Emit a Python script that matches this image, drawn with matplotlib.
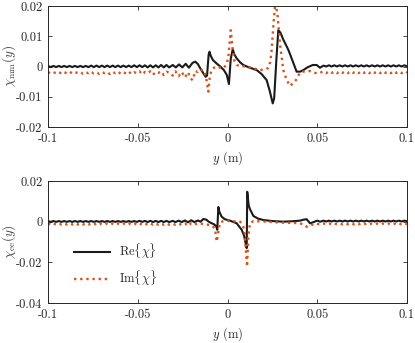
import matplotlib
matplotlib.use('Agg')
import matplotlib.pyplot as plt

plt.rcParams['font.family'] = 'cmr10'
plt.rcParams['mathtext.fontset'] = 'cm'
plt.rcParams['axes.unicode_minus'] = False
plt.rcParams['axes.formatter.use_mathtext'] = True

# позиции y (м) для "хвостов" с мелкими осцилляциями
pos_left = [-0.1, -0.0985, -0.097, -0.0955, -0.094, -0.0925, -0.091, -0.0895, -0.088, -0.0865,
            -0.085, -0.0835, -0.082, -0.0805, -0.079, -0.0775, -0.076, -0.0745, -0.073, -0.0715,
            -0.07, -0.0685, -0.067, -0.0655, -0.064, -0.0625, -0.061, -0.0595, -0.058, -0.0565,
            -0.055, -0.0535, -0.052, -0.0505, -0.049, -0.0475, -0.046, -0.0445, -0.043, -0.0415,
            -0.04, -0.0385, -0.037, -0.0355, -0.034, -0.0325]
pos_right = [0.0535, 0.055, 0.0565, 0.058, 0.0595, 0.061, 0.0625, 0.064, 0.0655, 0.067,
             0.0685, 0.07, 0.0715, 0.073, 0.0745, 0.076, 0.0775, 0.079, 0.0805, 0.082,
             0.0835, 0.085, 0.0865, 0.088, 0.0895, 0.091, 0.0925, 0.094, 0.0955, 0.097,
             0.0985, 0.1]

# верхний график: chi_mm
mm_re_left = [0.0002, -0.0002, 0.0002, -0.0002, 0.0002, -0.0002, 0.0002, -0.0002, 0.0002, -0.0002,
              0.0002, -0.0002, 0.0002, -0.0002, 0.0002, -0.0002, 0.0003, -0.0002, 0.0003, -0.0002,
              0.0003, -0.0002, 0.0003, -0.0002, 0.0003, -0.0002, 0.0003, -0.0002, 0.0003, -0.0002,
              0.0003, -0.0002, 0.0004, -0.0002, 0.0004, -0.0002, 0.0004, -0.0003, 0.0004, -0.0003,
              0.0004, -0.0003, 0.0005, -0.0003, 0.0005, -0.0003]
mm_im_left = [-0.0018, -0.0023, -0.0019, -0.0022, -0.0018, -0.0024, -0.0019, -0.0022, -0.0017, -0.0023,
              -0.0019, -0.0021, -0.0018, -0.0024, -0.0019, -0.0022, -0.0017, -0.0023, -0.0020, -0.0024,
              -0.0018, -0.0022, -0.0019, -0.0025, -0.0018, -0.0022, -0.0017, -0.0024, -0.0019, -0.0023,
              -0.0017, -0.0025, -0.0019, -0.0022, -0.0016, -0.0026, -0.0018, -0.0022, -0.0016, -0.0027,
              -0.0018, -0.0021, -0.0016, -0.0028, -0.0017, -0.0021]
mm_re_mid_pos = [-0.0305, -0.0288, -0.027, -0.0252, -0.0233, -0.0215, -0.0195, -0.018, -0.0165, -0.015,
                 -0.0135, -0.0122, -0.0114, -0.0105, -0.01, -0.0093, -0.0082, -0.007, -0.0055, -0.004,
                 -0.002, -0.0004, 0.0008, 0.0018, 0.0029, 0.0038, 0.0051, 0.007, 0.0088, 0.012,
                 0.0163, 0.019, 0.0218, 0.0235, 0.0252, 0.026, 0.0272, 0.0283, 0.0295, 0.031,
                 0.0339, 0.0365, 0.0385, 0.0405, 0.0422, 0.0445, 0.0475, 0.0497, 0.0515]
mm_re_mid = [0.0005, -0.0003, 0.0007, -0.0003, 0.0009, -0.0004, 0.0012, 0.0016, 0.0008, -0.0008,
             -0.0022, -0.0034, -0.0030, 0.0040, 0.0049, 0.0035, 0.0022, 0.0015, 0.0007, 0.0,
             -0.0012, -0.0028, -0.0058, 0.0025, 0.0057, 0.0040, 0.0027, 0.0014, 0.0005, -0.0003,
             -0.0012, -0.0025, -0.0045, -0.0080, -0.0122, -0.0105, 0.0020, 0.0120, 0.0112, 0.0090,
             0.0055, 0.0015, -0.0017, -0.0017, -0.0012, -0.0003, 0.0005, 0.0005, -0.0004]
mm_im_mid_pos = [-0.0305, -0.029, -0.0272, -0.0255, -0.0237, -0.022, -0.0205, -0.0194, -0.018, -0.0165,
                 -0.0153, -0.013, -0.0118, -0.0107, -0.0098, -0.0088, -0.0075, -0.006, -0.004, -0.0023,
                 -0.0008, 0.0004, 0.0012, 0.0018, 0.0023, 0.0029, 0.0038, 0.0051, 0.0075, 0.0107,
                 0.0145, 0.0181, 0.0215, 0.0227, 0.0238, 0.0246, 0.0256, 0.0266, 0.0278, 0.0292,
                 0.0311, 0.033, 0.0348, 0.0367, 0.0385, 0.0404, 0.0422, 0.046, 0.0497, 0.0515]
mm_im_mid = [-0.0030, -0.0016, -0.0032, -0.0018, -0.0036, -0.0019, -0.0040, -0.0045, -0.0015, -0.0018,
             -0.0010, -0.0014, -0.0040, -0.0083, -0.0030, -0.0012, -0.0004, 0.0, -0.0004, -0.0006,
             0.0005, 0.0027, 0.0080, 0.0120, 0.0090, 0.0055, 0.0020, 0.0005, 0.0001, 0.0,
             -0.0006, -0.0012, -0.0008, -0.0005, 0.0015, 0.0055, 0.0140, 0.0210, 0.0176, 0.0077,
             -0.0012, -0.0045, -0.0064, -0.0055, -0.0042, -0.0020, -0.0017, -0.0015, -0.0023, -0.0020]
mm_re_right = [0.0003, 0.0, 0.0004, 0.0, 0.0004, 0.0, 0.0004, 0.0, 0.0004, 0.0,
               0.0004, 0.0, 0.0004, 0.0, 0.0004, 0.0, 0.0004, 0.0, 0.0004, 0.0,
               0.0004, 0.0, 0.0004, 0.0, 0.0004, 0.0, 0.0004, 0.0, 0.0004, 0.0,
               0.0004, 0.0001]
mm_im_right = [-0.0017, -0.0022, -0.0016, -0.0021, -0.0017, -0.0022, -0.0016, -0.0021, -0.0017, -0.0022,
               -0.0016, -0.0021, -0.0017, -0.0022, -0.0016, -0.0021, -0.0017, -0.0022, -0.0016, -0.0021,
               -0.0017, -0.0022, -0.0016, -0.0021, -0.0017, -0.0022, -0.0016, -0.0021, -0.0017, -0.0022,
               -0.0016, -0.0020]

# нижний график: chi_ee
ee_re_left = [0.0003, -0.0001, 0.0003, -0.0001, 0.0003, -0.0001, 0.0003, -0.0001, 0.0003, -0.0001,
              0.0003, -0.0001, 0.0003, -0.0001, 0.0003, -0.0001, 0.0003, -0.0001, 0.0003, -0.0001,
              0.0003, -0.0001, 0.0003, -0.0001, 0.0003, -0.0001, 0.0003, -0.0001, 0.0003, -0.0001,
              0.0003, -0.0001, 0.0003, -0.0001, 0.0004, -0.0001, 0.0004, -0.0002, 0.0004, -0.0002,
              0.0004, -0.0002, 0.0004, -0.0002, 0.0004, -0.0002]
ee_im_left = [-0.0009, -0.0014, -0.0009, -0.0014, -0.0009, -0.0014, -0.0009, -0.0014, -0.0009, -0.0014,
              -0.0009, -0.0014, -0.0009, -0.0014, -0.0009, -0.0014, -0.0009, -0.0014, -0.0009, -0.0014,
              -0.0009, -0.0014, -0.0009, -0.0014, -0.0009, -0.0014, -0.0009, -0.0014, -0.0009, -0.0014,
              -0.0009, -0.0014, -0.0009, -0.0015, -0.0009, -0.0015, -0.0009, -0.0015, -0.0009, -0.0015,
              -0.0009, -0.0015, -0.0009, -0.0015, -0.0009, -0.0015]
ee_re_mid_pos = [-0.0305, -0.029, -0.0272, -0.0255, -0.0237, -0.022, -0.0202, -0.0185, -0.0165, -0.015,
                 -0.0135, -0.0118, -0.0105, -0.009, -0.0075, -0.0063, -0.0057, -0.0051, -0.0045, -0.0033,
                 -0.0015, 0.0014, 0.0051, 0.0079, 0.0092, 0.0101, 0.0107, 0.011, 0.0118, 0.0125,
                 0.0144, 0.017, 0.02, 0.025, 0.0311, 0.036, 0.0404, 0.0425, 0.0441, 0.046,
                 0.048, 0.05, 0.0517]
ee_re_mid = [0.0004, -0.0002, 0.0005, -0.0002, 0.0006, -0.0003, 0.0007, -0.0002, 0.0006, 0.0,
             0.0013, 0.0010, 0.0, -0.0007, -0.0013, -0.0022, -0.0040, 0.0072, 0.0048, 0.0025,
             0.0012, 0.0005, -0.0008, -0.0040, -0.0068, -0.0106, -0.0130, 0.0147, 0.0080, 0.0062,
             0.0028, 0.0015, 0.0008, 0.0003, 0.0, 0.0002, 0.0005, 0.0010, 0.0012, -0.0008,
             -0.0002, 0.0005, 0.0]
ee_im_mid_pos = [-0.0305, -0.029, -0.0272, -0.0255, -0.0237, -0.022, -0.0202, -0.0185, -0.0165, -0.0153,
                 -0.0135, -0.011, -0.009, -0.0079, -0.0068, -0.006, -0.0053, -0.0042, -0.0023, -0.0004,
                 0.003, 0.007, 0.008, 0.0088, 0.0096, 0.0101, 0.0109, 0.0116, 0.0125, 0.0144,
                 0.02, 0.025, 0.0311, 0.036, 0.0404, 0.0425, 0.0441, 0.0469, 0.049, 0.0517]
ee_im_mid = [-0.0010, -0.0015, -0.0009, -0.0016, -0.0009, -0.0021, -0.0008, -0.0015, -0.0007, -0.0008,
             -0.0012, -0.0015, -0.0020, -0.0025, -0.0045, -0.0098, -0.0060, -0.0005, 0.0003, 0.0005,
             0.0002, 0.0, -0.0010, -0.0025, -0.0060, -0.0123, -0.0221, -0.0074, -0.0008, 0.0003,
             0.0001, -0.0002, -0.0005, -0.0006, -0.0008, -0.0015, -0.0025, -0.0016, -0.0009, -0.0014]
ee_re_right = [0.0005, 0.0001, 0.0005, 0.0001, 0.0005, 0.0001, 0.0005, 0.0001, 0.0005, 0.0001,
               0.0005, 0.0001, 0.0005, 0.0001, 0.0005, 0.0001, 0.0005, 0.0001, 0.0005, 0.0001,
               0.0005, 0.0001, 0.0005, 0.0001, 0.0005, 0.0001, 0.0005, 0.0001, 0.0005, 0.0001,
               0.0005, 0.0002]
ee_im_right = [-0.0009, -0.0013, -0.0009, -0.0013, -0.0009, -0.0013, -0.0009, -0.0013, -0.0009, -0.0013,
               -0.0009, -0.0013, -0.0009, -0.0013, -0.0009, -0.0013, -0.0009, -0.0013, -0.0009, -0.0013,
               -0.0009, -0.0013, -0.0009, -0.0013, -0.0009, -0.0013, -0.0009, -0.0013, -0.0009, -0.0013,
               -0.0009, -0.0012]

x_ticks = [-0.1, -0.05, 0, 0.05, 0.1]
x_labels = ['-0.1', '-0.05', '0', '0.05', '0.1']
mm_ticks = [-0.02, -0.01, 0, 0.01, 0.02]
mm_labels = ['-0.02', '-0.01', '0', '0.01', '0.02']
ee_ticks = [-0.04, -0.02, 0, 0.02]
ee_labels = ['-0.04', '-0.02', '0', '0.02']

BLACK = '#1a1a1a'
ORANGE = '#D95319'
AX_COLOR = '#262626'
DOTS = (0, (1, 1.6))

fig = plt.figure(figsize=(4.15, 3.43), dpi=100)
ax1 = fig.add_axes([0.1157, 0.6297, 0.865, 0.3528])
ax2 = fig.add_axes([0.1157, 0.1166, 0.865, 0.3557])


def style(ax, yticks, ylabels, ylim, ylabel):
    ax.set_xlim(-0.1, 0.1)
    ax.set_ylim(*ylim)
    ax.set_xticks(x_ticks, x_labels)
    ax.set_yticks(yticks, ylabels)
    ax.tick_params(direction='in', length=3, width=0.6, top=True, right=True,
                   labelsize=9, colors=AX_COLOR, pad=4)
    for s in ax.spines.values():
        s.set_linewidth(0.7)
        s.set_color(AX_COLOR)
    ax.set_xlabel(r'$y$ (m)', fontsize=9, color=AX_COLOR, labelpad=3)
    ax.set_ylabel(ylabel, fontsize=9.5, color='#404040')
    ax.yaxis.set_label_coords(-0.083, 0.5)


mm_re_x = pos_left + mm_re_mid_pos + pos_right
mm_re_y = mm_re_left + mm_re_mid + mm_re_right
mm_im_x = pos_left + mm_im_mid_pos + pos_right
mm_im_y = mm_im_left + mm_im_mid + mm_im_right
ax1.plot(mm_re_x, mm_re_y, color=BLACK, lw=1.5)
ax1.plot(mm_im_x, mm_im_y, color=ORANGE, lw=1.7, ls=DOTS)
style(ax1, mm_ticks, mm_labels, (-0.02, 0.02), r'$\chi_{\rm mm}(y)$')

ee_re_x = pos_left + ee_re_mid_pos + pos_right
ee_re_y = ee_re_left + ee_re_mid + ee_re_right
ee_im_x = pos_left + ee_im_mid_pos + pos_right
ee_im_y = ee_im_left + ee_im_mid + ee_im_right
ax2.plot(ee_re_x, ee_re_y, color=BLACK, lw=1.5, label=r'Re$\{\chi\}$')
ax2.plot(ee_im_x, ee_im_y, color=ORANGE, lw=1.7, ls=DOTS, label=r'Im$\{\chi\}$')
style(ax2, ee_ticks, ee_labels, (-0.04, 0.02), r'$\chi_{\rm ee}(y)$')
ax2.legend(loc='lower left', bbox_to_anchor=(0.04, 0.03), frameon=False, fontsize=9,
           handlelength=2.9, handletextpad=0.7, labelspacing=0.6, labelcolor=AX_COLOR)

fig.savefig('out.png', dpi=100)
